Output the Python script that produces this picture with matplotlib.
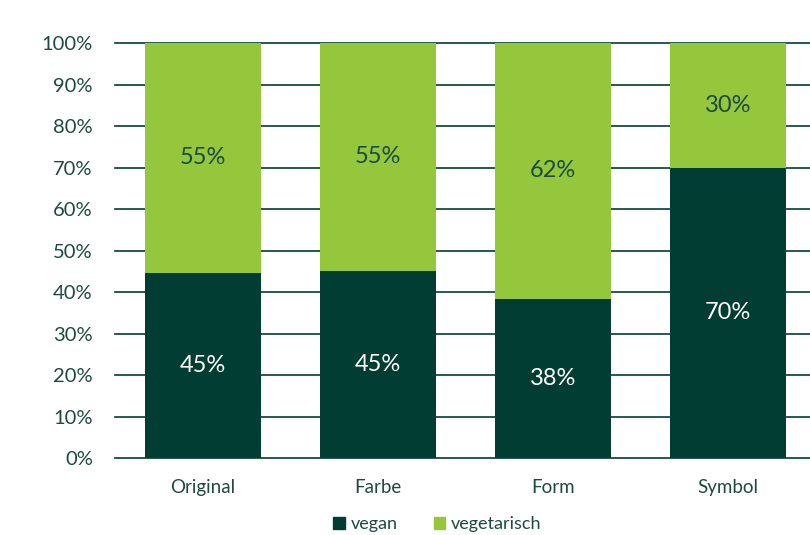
import matplotlib

matplotlib.use("Agg")
import matplotlib.pyplot as plt
from matplotlib.patches import Patch
from matplotlib.ticker import PercentFormatter

# data
categories = ["Original", "Farbe", "Form", "Symbol"]
vegan = [0.446, 0.451, 0.384, 0.700]
vegetarisch = [0.554, 0.549, 0.616, 0.300]
y_ticks = [0.0, 0.1, 0.2, 0.3, 0.4, 0.5, 0.6, 0.7, 0.8, 0.9, 1.0]

DARK = "#013d33"
LIGHT = "#95c73d"
TEXT = "#1d4a40"

plt.rcParams["font.family"] = ["Lato", "DejaVu Sans"]

fig = plt.figure(figsize=(8.1, 5.35), dpi=100)
ax = fig.add_axes([0.142, 0.1439, 0.858, 0.7757])

x = range(len(categories))
width = 0.663
b1 = ax.bar(x, vegan, width, color=DARK, zorder=3, label="vegan")
b2 = ax.bar(x, vegetarisch, width, bottom=vegan, color=LIGHT, zorder=3, label="vegetarisch")

for i in x:
    ax.text(i, vegan[i] / 2, f"{round(vegan[i] * 100)}%", ha="center", va="center",
            color="white", fontsize=17, zorder=4)
    ax.text(i, vegan[i] + vegetarisch[i] / 2, f"{round(vegetarisch[i] * 100)}%",
            ha="center", va="center", color=TEXT, fontsize=17, zorder=4)

ax.set_xlim(-0.503, 3.469)
ax.set_ylim(0, 1.0)
ax.set_yticks(y_ticks)
ax.yaxis.set_major_formatter(PercentFormatter(1.0, decimals=0))
ax.set_xticks(list(x))
ax.set_xticklabels(categories)
ax.tick_params(axis="y", length=0, pad=16, labelsize=14.5, labelcolor=TEXT)
ax.tick_params(axis="x", length=0, pad=15, labelsize=13.5, labelcolor=TEXT)
ax.yaxis.grid(True, color=DARK, linewidth=1.2, zorder=0)
for line in ax.get_ygridlines():
    line.set_clip_on(False)
ax.set_axisbelow(True)
for s in ax.spines.values():
    s.set_visible(False)

handles = [Patch(color=DARK, label="vegan"), Patch(color=LIGHT, label="vegetarisch")]
fig.legend(handles=handles, loc="lower center", bbox_to_anchor=(0.54, 0.002), ncol=2,
           frameon=False, fontsize=13, labelcolor=TEXT, handlelength=0.65, handleheight=0.65,
           handletextpad=0.3, columnspacing=2.0, borderaxespad=0, borderpad=0.1)

fig.savefig("out.png", dpi=100)
